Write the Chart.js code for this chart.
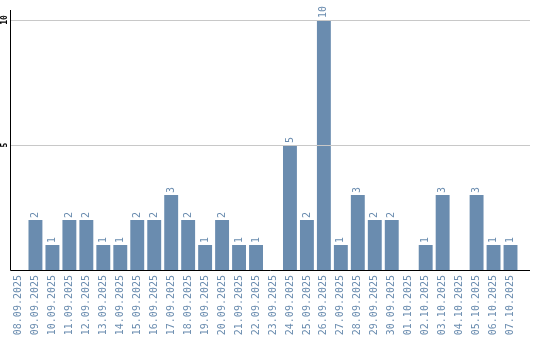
<!DOCTYPE html>
<html>
<head>
<meta charset="utf-8">
<script src="https://cdn.jsdelivr.net/npm/chart.js@4/dist/chart.umd.min.js"></script>
<style>
    html, body { margin: 0; padding: 0; background: #fff; }
    #wrap { width: 540px; height: 340px; }
</style>
</head>
<body>
<div id="wrap"><canvas id="grafico"></canvas></div>
<script>
// dados
const datas = [
    "08.09.2025", "09.09.2025", "10.09.2025", "11.09.2025", "12.09.2025",
    "13.09.2025", "14.09.2025", "15.09.2025", "16.09.2025", "17.09.2025",
    "18.09.2025", "19.09.2025", "20.09.2025", "21.09.2025", "22.09.2025",
    "23.09.2025", "24.09.2025", "25.09.2025", "26.09.2025", "27.09.2025",
    "28.09.2025", "29.09.2025", "30.09.2025", "01.10.2025", "02.10.2025",
    "03.10.2025", "04.10.2025", "05.10.2025", "06.10.2025", "07.10.2025"
];
const totais = [0, 2, 1, 2, 2, 1, 1, 2, 2, 3, 2, 1, 2, 1, 1, 0, 5, 2, 10, 1, 3, 2, 2, 0, 1, 3, 0, 3, 1, 1];
const ticksY = [5, 10];

const COR = "#6a8caf";
const EXTRA = 11; // grade passa um pouco da area das barras

const plugGrade = {
    id: "grade",
    afterDraw(chart) {
        const ctx = chart.ctx;
        const a = chart.chartArea;
        const y = chart.scales.y;
        ctx.save();
        // linhas da grade
        ctx.strokeStyle = "#c8c8c8";
        ctx.lineWidth = 1;
        ticksY.forEach(v => {
            const py = Math.round(y.getPixelForValue(v)) + 0.5;
            ctx.beginPath();
            ctx.moveTo(a.left, py);
            ctx.lineTo(a.right + EXTRA, py);
            ctx.stroke();
        });
        // eixos
        ctx.strokeStyle = "#000";
        ctx.beginPath();
        ctx.moveTo(a.left + 0.5, a.top);
        ctx.lineTo(a.left + 0.5, a.bottom + 0.5);
        ctx.lineTo(a.right + EXTRA, a.bottom + 0.5);
        ctx.stroke();

        // rotulos do eixo y
        ctx.fillStyle = "#000";
        ctx.font = "bold 8px 'DejaVu Sans Mono'";
        ctx.textAlign = "center";
        ctx.textBaseline = "middle";
        ticksY.forEach(v => {
            ctx.save();
            ctx.translate(5, y.getPixelForValue(v));
            ctx.rotate(-Math.PI / 2);
            ctx.fillText(String(v), 0, 0);
            ctx.restore();
        });

        // valores acima das barras
        ctx.fillStyle = COR;
        ctx.font = "10px 'DejaVu Sans Mono'";
        ctx.textAlign = "left";
        ctx.textBaseline = "middle";
        chart.getDatasetMeta(0).data.forEach((bar, i) => {
            if (!totais[i]) return;
            ctx.save();
            ctx.translate(bar.x, bar.y - 2);
            ctx.rotate(-Math.PI / 2);
            ctx.fillText(String(totais[i]), 0, 0);
            ctx.restore();
        });
        ctx.restore();
    }
};

new Chart(document.getElementById("grafico"), {
    type: "bar",
    data: {
        labels: datas,
        datasets: [{
            data: totais,
            backgroundColor: COR,
            barPercentage: 0.82,
            categoryPercentage: 1
        }]
    },
    options: {
        responsive: true,
        maintainAspectRatio: false,
        animation: false,
        layout: { padding: { top: 10, right: 21, left: 0, bottom: 0 } },
        plugins: {
            legend: { display: false },
            tooltip: { enabled: false }
        },
        scales: {
            x: {
                grid: { display: false, drawTicks: false },
                border: { display: false },
                ticks: {
                    color: COR,
                    font: { family: "DejaVu Sans Mono", size: 10 },
                    minRotation: 90,
                    maxRotation: 90,
                    padding: 5,
                    autoSkip: false
                },
                afterFit: s => { s.height = 70; }
            },
            y: {
                min: 0,
                max: 10.4,
                grid: { display: false, drawTicks: false },
                border: { display: false },
                ticks: { display: false },
                afterBuildTicks: s => { s.ticks = ticksY.map(v => ({ value: v })); },
                afterFit: s => { s.width = 10; }
            }
        }
    },
    plugins: [plugGrade]
});
</script>
</body>
</html>
